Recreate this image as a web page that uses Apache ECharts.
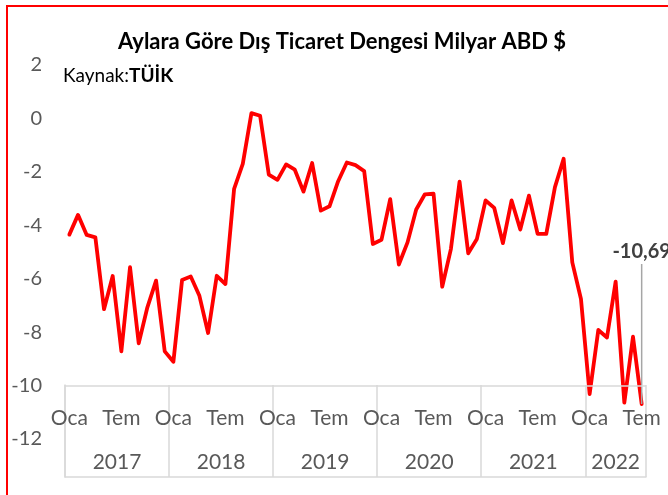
<!DOCTYPE html>
<html>
<head>
<meta charset="utf-8">
<script src="https://cdn.jsdelivr.net/npm/echarts@6/dist/echarts.min.js"></script>
<style>
  html, body { margin: 0; padding: 0; background: #fff; overflow: hidden; }
  #chart { width: 668px; height: 495px; }
  .frame {
    position: absolute; left: 6px; top: 5px; width: 800px; height: 600px;
    border-left: 2px solid #ff0000; border-top: 2px solid #ff0000;
    pointer-events: none;
  }
</style>
</head>
<body>
<div id="chart"></div>
<div class="frame"></div>
<script>
// aylık dış ticaret dengesi, milyar ABD $ (Oca 2017 - Tem 2022)
const years = ['2017', '2018', '2019', '2020', '2021', '2022']
const monthNames = ['Oca', 'Şub', 'Mar', 'Nis', 'May', 'Haz', 'Tem', 'Ağu', 'Eyl', 'Eki', 'Kas', 'Ara']
const shownMonths = ['Oca', 'Tem']
const balance = [
  -4.35, -3.61, -4.36, -4.45, -7.14, -5.90, -8.72, -5.57, -8.42, -7.07, -6.07, -8.72,
  -9.11, -6.05, -5.92, -6.64, -8.03, -5.89, -6.20, -2.64, -1.70, 0.20, 0.10, -2.10,
  -2.30, -1.72, -1.92, -2.74, -1.67, -3.45, -3.29, -2.35, -1.65, -1.75, -1.97, -4.70,
  -4.54, -3.02, -5.47, -4.64, -3.41, -2.84, -2.82, -6.30, -4.89, -2.37, -5.05, -4.51,
  -3.07, -3.35, -4.67, -3.07, -4.16, -2.89, -4.32, -4.32, -2.57, -1.51, -5.39, -6.76,
  -10.32, -7.92, -8.20, -6.11, -10.64, -8.17, -10.69
]
const yTicks = { min: -12, max: 2, step: 2 }
const axisBase = -10

const FONT = 'Lato'
const months = balance.map((v, i) => years[Math.floor(i / 12)] + ' ' + monthNames[i % 12])
const lastIdx = balance.length - 1

// yıl etiketinin ortası (ay biriminde)
const yearCenters = years.map((y, k) => {
  const start = k * 12
  const count = Math.min(12, balance.length - start)
  return start + count / 2
})

const chart = echarts.init(document.getElementById('chart'))
const option = {
  animation: false,
  textStyle: { fontFamily: FONT },
  title: [
    {
      text: 'Aylara Göre Dış Ticaret Dengesi Milyar ABD $',
      left: 118,
      top: 31,
      padding: 0,
      textStyle: { fontFamily: FONT, fontSize: 22, fontWeight: 'bold', color: '#000' }
    },
    {
      text: '{a|Kaynak:}{b|TÜİK}',
      left: 63,
      top: 66,
      padding: 0,
      textStyle: {
        rich: {
          a: { fontFamily: FONT, fontSize: 19, fontWeight: 'normal', color: '#000' },
          b: { fontFamily: FONT, fontSize: 19, fontWeight: 'bold', color: '#000' }
        }
      }
    }
  ],
  grid: [
    { left: 65, right: 22, top: 65, bottom: 56 },
    { left: 65, right: 22, top: 385, height: 92 }
  ],
  xAxis: [
    {
      type: 'category',
      gridIndex: 0,
      data: months,
      boundaryGap: true,
      show: false
    },
    {
      type: 'category',
      gridIndex: 1,
      data: months,
      position: 'top',
      boundaryGap: true,
      axisLine: { show: true, lineStyle: { color: '#d9d9d9', width: 1.5 } },
      axisTick: { show: false },
      axisLabel: {
        inside: true,
        margin: 23,
        color: '#595959',
        fontSize: 21,
        fontFamily: FONT,
        interval: (i, v) => shownMonths.includes(monthNames[i % 12]),
        formatter: (v, i) => monthNames[i % 12]
      },
      splitLine: {
        show: true,
        interval: (i) => i % 12 === 0 || i === balance.length,
        lineStyle: { color: '#d9d9d9', width: 1.5 }
      }
    },
    {
      type: 'value',
      gridIndex: 1,
      min: 0,
      max: balance.length,
      interval: 0.5,
      position: 'bottom',
      axisLine: { show: false },
      axisTick: { show: false },
      splitLine: { show: false },
      axisLabel: {
        inside: true,
        margin: 4,
        color: '#595959',
        fontSize: 21,
        fontFamily: FONT,
        showMinLabel: false,
        showMaxLabel: false,
        formatter: (v) => {
          const k = yearCenters.indexOf(v)
          return k >= 0 ? years[k] : ''
        }
      }
    }
  ],
  yAxis: [
    {
      type: 'value',
      gridIndex: 0,
      min: yTicks.min,
      max: yTicks.max,
      interval: yTicks.step,
      axisLine: { show: false },
      axisTick: { show: false },
      splitLine: { show: false },
      axisLabel: { color: '#595959', fontSize: 20, fontFamily: FONT, margin: 23 }
    },
    {
      type: 'value',
      gridIndex: 1,
      position: 'right',
      axisLine: { show: true, lineStyle: { color: '#d9d9d9', width: 1.5 } },
      axisTick: { show: false },
      axisLabel: { show: false },
      splitLine: { show: false }
    }
  ],
  series: [
    {
      type: 'line',
      xAxisIndex: 0,
      yAxisIndex: 0,
      data: balance.map((v, i) => i === lastIdx ? {
        value: v,
        label: {
          show: true,
          position: 'top',
          distance: 0,
          // değer + aşağı inen gri çizgi
          formatter: (p) => '{v|' + p.value.toFixed(2).replace('.', ',') + '}\n{l|}',
          rich: {
            v: { fontFamily: FONT, fontSize: 20, fontWeight: 'bold', color: '#404040', lineHeight: 24 },
            l: { width: 1.5, height: 140, backgroundColor: '#a6a6a6' }
          }
        }
      } : v),
      showSymbol: true,
      symbol: 'circle',
      symbolSize: 0,
      clip: false,
      lineStyle: { color: '#ff0000', width: 3.8, join: 'round', cap: 'round' },
      markLine: {
        silent: true,
        symbol: 'none',
        label: { show: false },
        lineStyle: { color: '#d9d9d9', width: 1.5, type: 'solid' },
        data: [{ yAxis: axisBase }]
      }
    }
  ]
}
chart.setOption(option)
</script>
</body>
</html>
